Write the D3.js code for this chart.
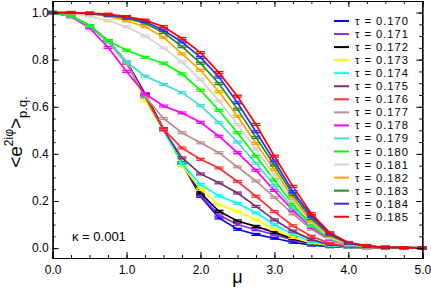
<!DOCTYPE html>
<html><head><meta charset="utf-8">
<script src="https://cdn.jsdelivr.net/npm/d3@7"></script>
<style>body{margin:0;background:#fff} svg{display:block} text{font-family:"Liberation Sans",Arial,sans-serif}</style>
</head><body><svg id="c" width="431" height="289"></svg>
<script>
const mu = [0,0.25,0.5,0.75,1,1.25,1.5,1.75,2,2.25,2.5,2.75,3,3.25,3.5,3.75,4,4.25,4.5,4.75,5];
const tauLabels = ["0.170","0.171","0.172","0.173","0.174","0.175","0.176","0.177","0.178","0.179","0.180","0.181","0.182","0.183","0.184","0.185"];
const colors = ["#0000ff","#8a2be2","#000000","#ffff00","#00ffff","#7f2b6e","#ff3030","#bc8f8f","#ff00ff","#40e0d0","#00ff00","#d3d3d3","#ffa500","#1e8b1e","#2b2bff","#ff0000"];
const t170 = [1,0.985,0.943,0.88,0.79,0.655,0.505,0.36,0.22,0.128,0.08,0.058,0.042,0.025,0.013,0.006,0.003,0.002,0.001,0.001,0.001];
const t171 = [1,0.985,0.943,0.88,0.79,0.655,0.505,0.36,0.225,0.14,0.1,0.078,0.057,0.035,0.018,0.008,0.004,0.002,0.001,0.001,0.001];
const t172 = [1,0.985,0.943,0.88,0.79,0.652,0.505,0.362,0.234,0.156,0.115,0.092,0.067,0.04,0.02,0.009,0.004,0.002,0.001,0.001,0.001];
const t173 = [1,0.985,0.943,0.88,0.79,0.625,0.5,0.352,0.25,0.184,0.155,0.12,0.08,0.045,0.022,0.01,0.004,0.002,0.001,0.001,0.001];
const t174 = [1,0.985,0.943,0.88,0.79,0.64,0.5,0.36,0.27,0.222,0.19,0.15,0.1,0.058,0.028,0.012,0.005,0.003,0.002,0.001,0.001];
const t175 = [1,0.985,0.943,0.88,0.785,0.645,0.503,0.383,0.315,0.277,0.234,0.177,0.12,0.072,0.036,0.015,0.006,0.003,0.002,0.001,0.001];
const t176 = [1,0.985,0.943,0.88,0.785,0.645,0.505,0.425,0.377,0.34,0.283,0.22,0.155,0.095,0.05,0.02,0.008,0.004,0.002,0.001,0.001];
const t177 = [1,0.985,0.943,0.875,0.785,0.645,0.55,0.49,0.447,0.405,0.345,0.285,0.215,0.145,0.08,0.035,0.013,0.005,0.003,0.002,0.001];
const t178 = [1,0.982,0.935,0.852,0.75,0.655,0.603,0.574,0.534,0.475,0.405,0.33,0.245,0.16,0.088,0.037,0.013,0.005,0.003,0.002,0.001];
const t179 = [1,0.985,0.943,0.878,0.79,0.73,0.695,0.66,0.605,0.533,0.45,0.36,0.265,0.17,0.095,0.04,0.014,0.006,0.003,0.002,0.001];
const t180 = [1,0.988,0.945,0.88,0.84,0.81,0.785,0.74,0.67,0.585,0.49,0.39,0.29,0.185,0.1,0.042,0.015,0.006,0.003,0.002,0.001];
const t181 = [1,0.997,0.985,0.965,0.94,0.9,0.85,0.79,0.715,0.625,0.525,0.42,0.31,0.2,0.11,0.045,0.016,0.006,0.003,0.002,0.001];
const t182 = [1,0.999,0.994,0.984,0.965,0.94,0.895,0.825,0.755,0.664,0.56,0.445,0.333,0.212,0.115,0.05,0.018,0.007,0.003,0.002,0.001];
const t183 = [1,1,0.996,0.988,0.975,0.955,0.915,0.855,0.785,0.698,0.59,0.47,0.352,0.227,0.125,0.055,0.02,0.008,0.003,0.002,0.001];
const t184 = [1,1,0.997,0.99,0.98,0.962,0.925,0.875,0.81,0.726,0.617,0.494,0.37,0.24,0.137,0.06,0.022,0.008,0.003,0.002,0.001];
const t185 = [1,1,0.998,0.993,0.983,0.968,0.94,0.89,0.83,0.745,0.645,0.525,0.39,0.262,0.146,0.065,0.024,0.01,0.004,0.002,0.001];
const errBar = 0.004;
const xTicks = [0,1,2,3,4,5];
const yTicks = [0,0.2,0.4,0.6,0.8,1.0];
const kappaLabel = "κ = 0.001";

const seriesValues = [t170,t171,t172,t173,t174,t175,t176,t177,t178,t179,t180,t181,t182,t183,t184,t185];
const series = seriesValues.map((v,i)=>({tau:tauLabels[i], color:colors[i], pts:v.map((y,j)=>({x:mu[j],y}))}));

const svg = d3.select("#c");
const L=52.6, R=422.3, T=1, B=258;
const x = d3.scaleLinear().domain([0,5]).range([L,R]);
const y = d3.scaleLinear().domain([-0.042,1.049]).range([B,T]);

const plot = svg.append("g");
const line = d3.line().x(d=>x(d.x)).y(d=>y(d.y));
series.forEach(s=>{
  const g = plot.append("g");
  g.append("path").attr("d",line(s.pts)).attr("fill","none").attr("stroke",s.color).attr("stroke-width",1.7);
  const eb = g.selectAll("g.eb").data(s.pts).enter().append("g");
  eb.append("line").attr("x1",d=>x(d.x)).attr("x2",d=>x(d.x)).attr("y1",d=>y(d.y-errBar)).attr("y2",d=>y(d.y+errBar)).attr("stroke",s.color).attr("stroke-width",1.3);
  [-1,1].forEach(sg=>{
    eb.append("line").attr("x1",d=>x(d.x)-4.5).attr("x2",d=>x(d.x)+4.5).attr("y1",d=>y(d.y+sg*errBar)).attr("y2",d=>y(d.y+sg*errBar)).attr("stroke",s.color).attr("stroke-width",1.3);
  });
});

// axes
function styleAxis(g){ g.selectAll("path.domain").attr("stroke","#000").attr("stroke-width",1.2); g.selectAll(".tick line").attr("stroke","#000"); g.selectAll("text").attr("font-size",12).attr("fill","#000").style("font-family","Liberation Sans, Arial, sans-serif"); }
const xMinor = d3.range(0,5.001,0.25), yMinor = d3.range(0,1.001,0.05);
svg.append("g").attr("transform",`translate(0,${B})`).call(d3.axisBottom(x).tickValues(xTicks).tickFormat(d3.format(".1f")).tickSize(-6).tickPadding(7)).call(styleAxis);
svg.append("g").attr("transform",`translate(0,${B})`).call(d3.axisBottom(x).tickValues(xMinor).tickFormat("").tickSize(-3)).call(styleAxis);
svg.append("g").attr("transform",`translate(0,${T})`).call(d3.axisTop(x).tickValues(xTicks).tickFormat("").tickSize(-6)).call(styleAxis);
svg.append("g").attr("transform",`translate(0,${T})`).call(d3.axisTop(x).tickValues(xMinor).tickFormat("").tickSize(-3)).call(styleAxis);
svg.append("g").attr("transform",`translate(${L},0)`).call(d3.axisLeft(y).tickValues(yTicks).tickFormat(d3.format(".1f")).tickSize(-6).tickPadding(4)).call(styleAxis);
svg.append("g").attr("transform",`translate(${L},0)`).call(d3.axisLeft(y).tickValues(yMinor).tickFormat("").tickSize(-3)).call(styleAxis);
svg.append("g").attr("transform",`translate(${R},0)`).call(d3.axisRight(y).tickValues(yTicks).tickFormat("").tickSize(-6)).call(styleAxis);
svg.append("g").attr("transform",`translate(${R},0)`).call(d3.axisRight(y).tickValues(yMinor).tickFormat("").tickSize(-3)).call(styleAxis);

// axis titles
svg.append("text").attr("x",(L+R)/2).attr("y",283).attr("text-anchor","middle").attr("font-size",18).text("μ");
const yl = svg.append("text").attr("transform","translate(22,132) rotate(-90)").attr("text-anchor","middle").attr("font-size",19);
yl.append("tspan").text("<e");
yl.append("tspan").attr("font-size",12).attr("dy",-9).text("2iφ");
yl.append("tspan").attr("dy",9).text(">");
yl.append("tspan").attr("font-size",13).attr("dy",5).text("p.q.");

// kappa
svg.append("text").attr("x",72).attr("y",241).attr("font-size",13).text(kappaLabel);

// legend
const lg = svg.append("g");
series.forEach((s,i)=>{
  const yy = 21 + i*13.05;
  lg.append("line").attr("x1",334).attr("x2",349).attr("y1",yy).attr("y2",yy).attr("stroke",s.color).attr("stroke-width",2);
  lg.append("text").attr("x",355).attr("y",yy).attr("dy","0.36em").attr("font-size",11.2)
    .attr("textLength",53).attr("lengthAdjust","spacing").text("τ = "+s.tau);
});
</script></body></html>
